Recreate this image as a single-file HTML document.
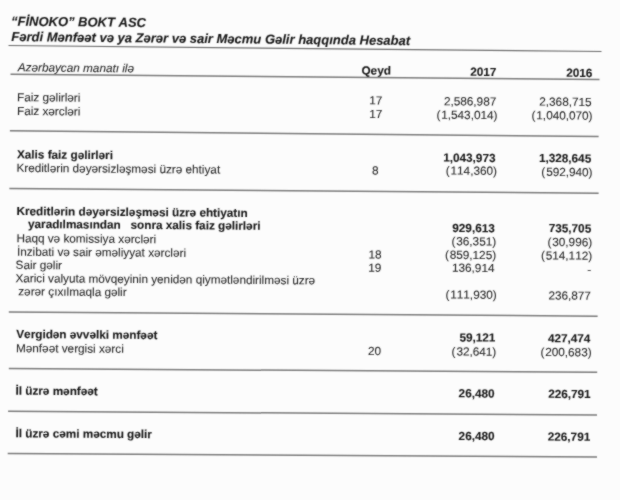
<!DOCTYPE html><html><head><meta charset="utf-8"><style>html,body{margin:0;padding:0;background:#fcfcfc;}svg{display:block}</style></head><body>
<svg width="620" height="500" viewBox="0 0 620 500">
<defs><filter id="b" x="-5%" y="-5%" width="110%" height="110%"><feConvolveMatrix order="3" kernelMatrix="1 2 1 2 16 2 1 2 1" edgeMode="none" preserveAlpha="false"/></filter></defs>
<rect width="620" height="500" fill="#fcfcfc"/>
<g filter="url(#b)">
<line x1="8.5" y1="45.5" x2="601.5" y2="51.5" stroke="#6e6e6e" stroke-width="1.2"/>
<line x1="10.5" y1="74.3" x2="599.5" y2="79.5" stroke="#7a7a7a" stroke-width="1.5"/>
<line x1="9.9" y1="130.8" x2="598.6" y2="136.6" stroke="#7a7a7a" stroke-width="1.5"/>
<line x1="9.4" y1="188.5" x2="598.6" y2="193.2" stroke="#7a7a7a" stroke-width="1.5"/>
<line x1="8.8" y1="311.9" x2="597.6" y2="316.2" stroke="#7a7a7a" stroke-width="1.5"/>
<line x1="8.8" y1="368.5" x2="597.2" y2="372.3" stroke="#7a7a7a" stroke-width="1.5"/>
<line x1="8.1" y1="411.2" x2="597.0" y2="415.1" stroke="#7a7a7a" stroke-width="1.5"/>
<line x1="7.7" y1="453.6" x2="597.0" y2="457.1" stroke="#7a7a7a" stroke-width="1.5"/>
<g font-family='"Liberation Sans", sans-serif' style="font-kerning:none;white-space:pre">
<text x="10.94" y="25.65" font-size="13" font-weight="bold" font-style="italic" stroke="#181818" stroke-width="0.1" fill="#181818" transform="rotate(0.585 12.40 25.65)" xml:space="preserve">“FİNOKO” BOKT ASC</text>
<text x="11.30" y="41.05" font-size="13" font-weight="bold" font-style="italic" stroke="#181818" stroke-width="0.1" fill="#181818" transform="rotate(0.576 11.60 41.05)" xml:space="preserve">Fərdi Mənfəət və ya Zərər və sair Məcmu Gəlir haqqında Hesabat</text>
<text x="17.78" y="71.25" font-size="11.75" font-style="italic" stroke="#2a2a2a" stroke-width="0.1" fill="#2a2a2a" transform="rotate(0.559 17.70 71.25)" xml:space="preserve">Azərbaycan manatı ilə</text>
<text x="376.18" y="74.55" text-anchor="middle" font-size="11.75" font-weight="bold" stroke="#181818" stroke-width="0.1" fill="#181818" transform="rotate(0.557 376.10 74.55)" xml:space="preserve">Qeyd</text>
<text x="496.42" y="76.05" text-anchor="end" font-size="11.75" font-weight="bold" stroke="#181818" stroke-width="0.1" fill="#181818" transform="rotate(0.556 496.10 76.05)" xml:space="preserve">2017</text>
<text x="592.28" y="77.05" text-anchor="end" font-size="11.75" font-weight="bold" stroke="#181818" stroke-width="0.1" fill="#181818" transform="rotate(0.555 592.00 77.05)" xml:space="preserve">2016</text>
<text x="17.00" y="101.15" font-size="11.75" stroke="#2a2a2a" stroke-width="0.1" fill="#2a2a2a" transform="rotate(0.541 18.00 101.15)" xml:space="preserve">Faiz gəlirləri</text>
<text x="375.85" y="104.45" text-anchor="middle" font-size="11.75" stroke="#2a2a2a" stroke-width="0.1" fill="#2a2a2a" transform="rotate(0.539 376.20 104.45)" xml:space="preserve">17</text>
<text x="496.24" y="105.65" text-anchor="end" font-size="11.75" stroke="#2a2a2a" stroke-width="0.1" fill="#2a2a2a" transform="rotate(0.539 495.80 105.65)" xml:space="preserve">2,586,987</text>
<text x="591.56" y="106.05" text-anchor="end" font-size="11.75" stroke="#2a2a2a" stroke-width="0.1" fill="#2a2a2a" transform="rotate(0.538 591.20 106.05)" xml:space="preserve">2,368,715</text>
<text x="17.00" y="114.95" font-size="11.75" stroke="#2a2a2a" stroke-width="0.1" fill="#2a2a2a" transform="rotate(0.533 18.00 114.95)" xml:space="preserve">Faiz xərcləri</text>
<text x="375.85" y="118.05" text-anchor="middle" font-size="11.75" stroke="#2a2a2a" stroke-width="0.1" fill="#2a2a2a" transform="rotate(0.532 376.20 118.05)" xml:space="preserve">17</text>
<text x="497.45" y="119.25" text-anchor="end" font-size="11.75" stroke="#2a2a2a" stroke-width="0.1" fill="#2a2a2a" transform="rotate(0.531 496.50 119.25)" xml:space="preserve">(<tspan dx="0.9">1,543,014)</tspan></text>
<text x="592.53" y="119.75" text-anchor="end" font-size="11.75" stroke="#2a2a2a" stroke-width="0.1" fill="#2a2a2a" transform="rotate(0.531 591.60 119.75)" xml:space="preserve">(<tspan dx="0.9">1,040,070)</tspan></text>
<text x="16.96" y="158.35" font-size="11.75" font-weight="bold" stroke="#181818" stroke-width="0.1" fill="#181818" transform="rotate(0.508 17.40 158.35)" xml:space="preserve">Xalis faiz gəlirləri</text>
<text x="495.48" y="162.05" text-anchor="end" font-size="11.75" font-weight="bold" stroke="#181818" stroke-width="0.1" fill="#181818" transform="rotate(0.506 495.20 162.05)" xml:space="preserve">1,043,973</text>
<text x="591.18" y="162.45" text-anchor="end" font-size="11.75" font-weight="bold" stroke="#181818" stroke-width="0.1" fill="#181818" transform="rotate(0.506 591.00 162.45)" xml:space="preserve">1,328,645</text>
<text x="16.41" y="171.85" font-size="11.75" stroke="#2a2a2a" stroke-width="0.1" fill="#2a2a2a" transform="rotate(0.500 17.40 171.85)" xml:space="preserve">Kreditlərin dəyərsizləşməsi üzrə ehtiyat</text>
<text x="375.18" y="174.65" text-anchor="middle" font-size="11.75" stroke="#2a2a2a" stroke-width="0.1" fill="#2a2a2a" transform="rotate(0.499 375.25 174.65)" xml:space="preserve">8</text>
<text x="496.93" y="174.95" text-anchor="end" font-size="11.75" stroke="#2a2a2a" stroke-width="0.1" fill="#2a2a2a" transform="rotate(0.499 496.00 174.95)" xml:space="preserve">(<tspan dx="0.9">114,360)</tspan></text>
<text x="592.54" y="176.25" text-anchor="end" font-size="11.75" stroke="#2a2a2a" stroke-width="0.1" fill="#2a2a2a" transform="rotate(0.498 591.60 176.25)" xml:space="preserve">(<tspan dx="0.9">592,940)</tspan></text>
<text x="16.54" y="215.05" font-size="11.75" font-weight="bold" stroke="#181818" stroke-width="0.1" fill="#181818" transform="rotate(0.475 17.40 215.05)" xml:space="preserve">Kreditlərin dəyərsizləşməsi üzrə ehtiyatın</text>
<text x="28.01" y="227.95" font-size="11.75" font-weight="bold" stroke="#181818" stroke-width="0.1" fill="#181818" transform="rotate(0.468 28.30 227.95)" xml:space="preserve">yaradılmasından   sonra xalis faiz gəlirləri</text>
<text x="494.78" y="232.25" text-anchor="end" font-size="11.75" font-weight="bold" stroke="#181818" stroke-width="0.1" fill="#181818" transform="rotate(0.465 494.50 232.25)" xml:space="preserve">929,613</text>
<text x="591.18" y="232.45" text-anchor="end" font-size="11.75" font-weight="bold" stroke="#181818" stroke-width="0.1" fill="#181818" transform="rotate(0.465 591.00 232.45)" xml:space="preserve">735,705</text>
<text x="16.40" y="242.15" font-size="11.75" stroke="#2a2a2a" stroke-width="0.1" fill="#2a2a2a" transform="rotate(0.460 17.40 242.15)" xml:space="preserve">Haqq və komissiya xərcləri</text>
<text x="496.14" y="245.55" text-anchor="end" font-size="11.75" stroke="#2a2a2a" stroke-width="0.1" fill="#2a2a2a" transform="rotate(0.458 495.20 245.55)" xml:space="preserve">(<tspan dx="0.9">36,351)</tspan></text>
<text x="592.14" y="246.25" text-anchor="end" font-size="11.75" stroke="#2a2a2a" stroke-width="0.1" fill="#2a2a2a" transform="rotate(0.457 591.20 246.25)" xml:space="preserve">(<tspan dx="0.9">30,996)</tspan></text>
<text x="16.90" y="255.65" font-size="11.75" stroke="#2a2a2a" stroke-width="0.1" fill="#2a2a2a" transform="rotate(0.452 18.00 255.65)" xml:space="preserve">İnzibati və sair əməliyyat xərcləri</text>
<text x="374.98" y="258.45" text-anchor="middle" font-size="11.75" stroke="#2a2a2a" stroke-width="0.1" fill="#2a2a2a" transform="rotate(0.450 375.30 258.45)" xml:space="preserve">18</text>
<text x="496.12" y="259.15" text-anchor="end" font-size="11.75" stroke="#2a2a2a" stroke-width="0.1" fill="#2a2a2a" transform="rotate(0.450 495.20 259.15)" xml:space="preserve">(<tspan dx="0.9">859,125)</tspan></text>
<text x="592.15" y="259.75" text-anchor="end" font-size="11.75" stroke="#2a2a2a" stroke-width="0.1" fill="#2a2a2a" transform="rotate(0.449 591.20 259.75)" xml:space="preserve">(<tspan dx="0.9">514,112)</tspan></text>
<text x="15.59" y="268.85" font-size="11.75" stroke="#2a2a2a" stroke-width="0.1" fill="#2a2a2a" transform="rotate(0.444 16.50 268.85)" xml:space="preserve">Sair gəlir</text>
<text x="374.86" y="271.75" text-anchor="middle" font-size="11.75" stroke="#2a2a2a" stroke-width="0.1" fill="#2a2a2a" transform="rotate(0.442 375.20 271.75)" xml:space="preserve">19</text>
<text x="494.49" y="272.05" text-anchor="end" font-size="11.75" stroke="#2a2a2a" stroke-width="0.1" fill="#2a2a2a" transform="rotate(0.442 494.10 272.05)" xml:space="preserve">136,914</text>
<text x="591.19" y="273.55" text-anchor="end" font-size="11.75" stroke="#2a2a2a" stroke-width="0.1" fill="#2a2a2a" transform="rotate(0.441 590.60 273.55)" xml:space="preserve">-</text>
<text x="15.39" y="282.15" font-size="11.75" stroke="#2a2a2a" stroke-width="0.1" fill="#2a2a2a" transform="rotate(0.436 16.20 282.15)" xml:space="preserve">Xarici valyuta mövqeyinin yenidən qiymətləndirilməsi üzrə</text>
<text x="18.25" y="295.35" font-size="11.75" stroke="#2a2a2a" stroke-width="0.1" fill="#2a2a2a" transform="rotate(0.429 18.80 295.35)" xml:space="preserve">zərər çıxılmaqla gəlir</text>
<text x="496.66" y="298.85" text-anchor="end" font-size="11.75" stroke="#2a2a2a" stroke-width="0.1" fill="#2a2a2a" transform="rotate(0.427 495.70 298.85)" xml:space="preserve">(<tspan dx="0.9">111,930)</tspan></text>
<text x="590.90" y="299.75" text-anchor="end" font-size="11.75" stroke="#2a2a2a" stroke-width="0.1" fill="#2a2a2a" transform="rotate(0.426 590.40 299.75)" xml:space="preserve">236,877</text>
<text x="16.27" y="338.05" font-size="11.75" font-weight="bold" stroke="#181818" stroke-width="0.1" fill="#181818" transform="rotate(0.404 16.50 338.05)" xml:space="preserve">Vergidən əvvəlki mənfəət</text>
<text x="495.34" y="341.65" text-anchor="end" font-size="11.75" font-weight="bold" stroke="#181818" stroke-width="0.1" fill="#181818" transform="rotate(0.402 495.20 341.65)" xml:space="preserve">59,121</text>
<text x="590.36" y="342.45" text-anchor="end" font-size="11.75" font-weight="bold" stroke="#181818" stroke-width="0.1" fill="#181818" transform="rotate(0.401 590.40 342.45)" xml:space="preserve">427,474</text>
<text x="16.01" y="352.15" font-size="11.75" stroke="#2a2a2a" stroke-width="0.1" fill="#2a2a2a" transform="rotate(0.396 17.00 352.15)" xml:space="preserve">Mənfəət vergisi xərci</text>
<text x="374.46" y="354.95" text-anchor="middle" font-size="11.75" stroke="#2a2a2a" stroke-width="0.1" fill="#2a2a2a" transform="rotate(0.394 374.50 354.95)" xml:space="preserve">20</text>
<text x="496.24" y="355.75" text-anchor="end" font-size="11.75" stroke="#2a2a2a" stroke-width="0.1" fill="#2a2a2a" transform="rotate(0.394 495.30 355.75)" xml:space="preserve">(<tspan dx="0.9">32,641)</tspan></text>
<text x="591.62" y="356.35" text-anchor="end" font-size="11.75" stroke="#2a2a2a" stroke-width="0.1" fill="#2a2a2a" transform="rotate(0.393 590.70 356.35)" xml:space="preserve">(<tspan dx="0.9">200,683)</tspan></text>
<text x="15.44" y="394.65" font-size="11.75" font-weight="bold" stroke="#181818" stroke-width="0.1" fill="#181818" transform="rotate(0.371 16.30 394.65)" xml:space="preserve">İl üzrə mənfəət</text>
<text x="494.56" y="397.55" text-anchor="end" font-size="11.75" font-weight="bold" stroke="#181818" stroke-width="0.1" fill="#181818" transform="rotate(0.369 494.20 397.55)" xml:space="preserve">26,480</text>
<text x="590.64" y="398.15" text-anchor="end" font-size="11.75" font-weight="bold" stroke="#181818" stroke-width="0.1" fill="#181818" transform="rotate(0.369 590.50 398.15)" xml:space="preserve">226,791</text>
<text x="15.44" y="437.35" font-size="11.75" font-weight="bold" stroke="#181818" stroke-width="0.1" fill="#181818" transform="rotate(0.346 16.30 437.35)" xml:space="preserve">İl üzrə cəmi məcmu gəlir</text>
<text x="494.56" y="440.15" text-anchor="end" font-size="11.75" font-weight="bold" stroke="#181818" stroke-width="0.1" fill="#181818" transform="rotate(0.345 494.20 440.15)" xml:space="preserve">26,480</text>
<text x="590.24" y="440.85" text-anchor="end" font-size="11.75" font-weight="bold" stroke="#181818" stroke-width="0.1" fill="#181818" transform="rotate(0.344 590.10 440.85)" xml:space="preserve">226,791</text>
</g></g></svg></body></html>
